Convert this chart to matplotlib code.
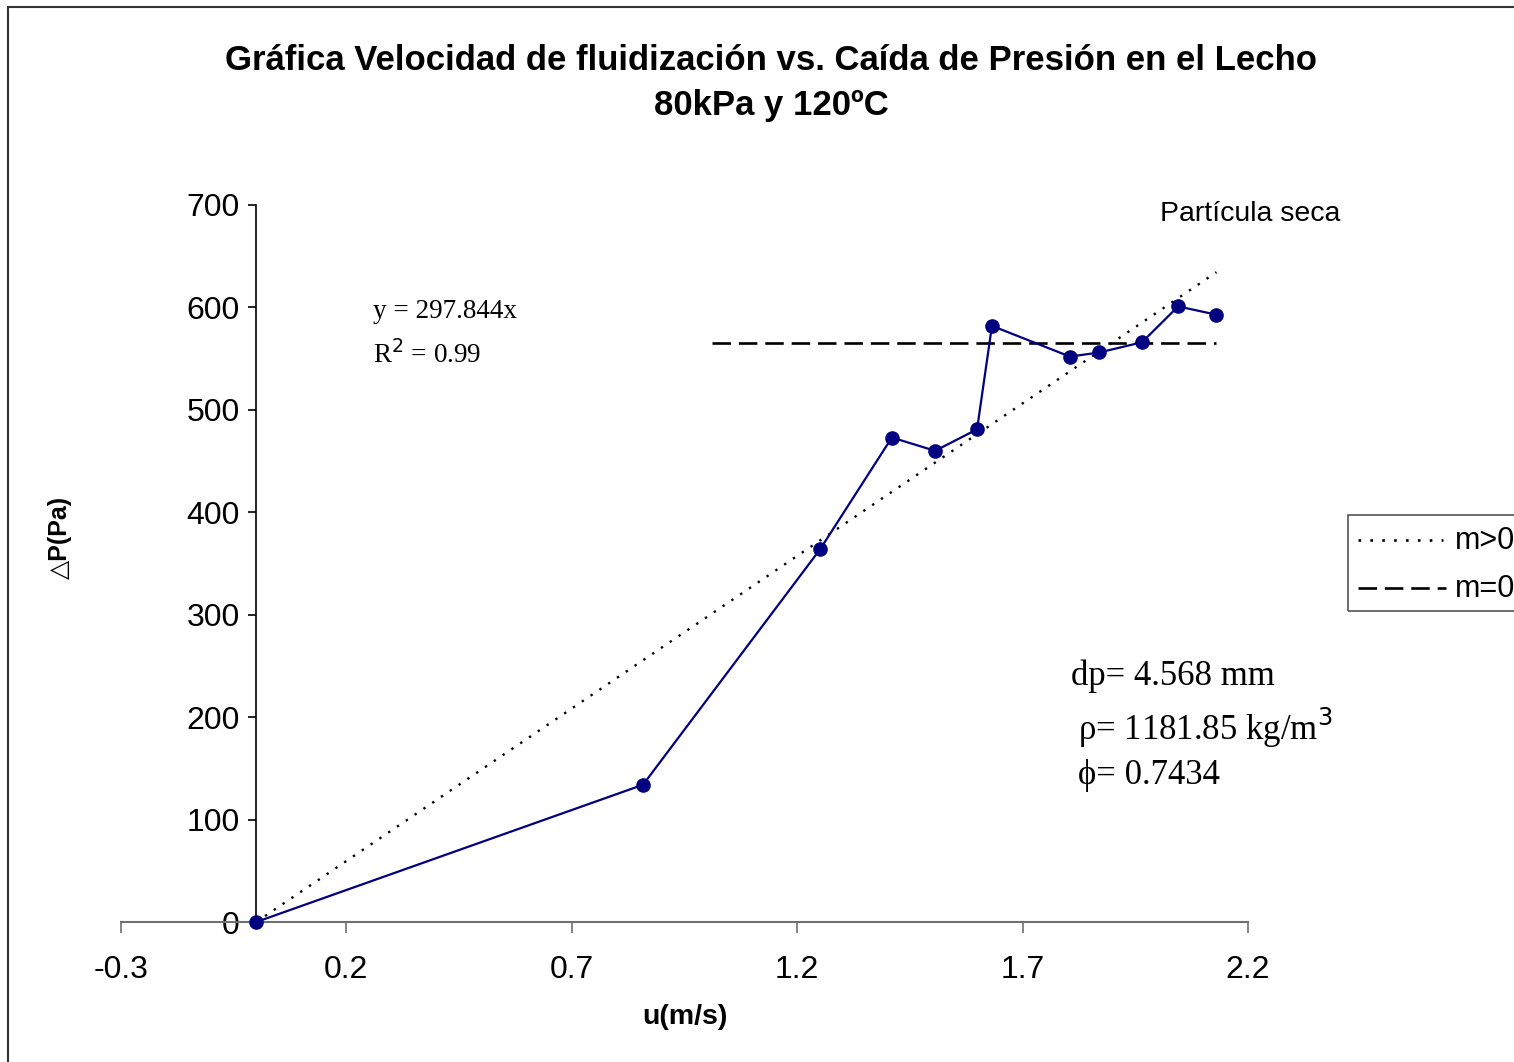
import matplotlib
matplotlib.use("Agg")
import matplotlib.pyplot as plt
from matplotlib.patches import Rectangle
from matplotlib.lines import Line2D

# Data
u = [0.0, 0.858, 1.251, 1.410, 1.506, 1.599, 1.632, 1.805, 1.870, 1.965, 2.045, 2.129]
dp = [0, 134, 364, 473, 460, 481, 582, 552, 556, 566, 601, 593]
slope = 297.844
fit_x = [0.0, 2.13]
plateau_x = [1.01, 2.13]
plateau_y = 565
xticks = [-0.3, 0.2, 0.7, 1.2, 1.7, 2.2]
xticklabels = ["-0.3", "0.2", "0.7", "1.2", "1.7", "2.2"]
yticks = [0, 100, 200, 300, 400, 500, 600, 700]

W, H = 1514, 1062
fig = plt.figure(figsize=(W / 100, H / 100), dpi=100)
sans = "Liberation Sans"
serif = "Liberation Serif"

def fx(px):
    return px / W

def fy(py):
    return 1 - py / H

ax = fig.add_axes([fx(121), fy(922), (1248 - 121) / W, (922 - 205) / H])
ax.set_xlim(-0.3, 2.2)
ax.set_ylim(0, 700)
ax.patch.set_alpha(0)

ax.plot(fit_x, [slope * x for x in fit_x], color="black", linestyle=(0, (1, 3.5)), linewidth=1.7)
ax.plot(plateau_x, [plateau_y, plateau_y], color="black", linestyle=(0, (7, 3)), linewidth=1.9)
ax.plot(u, dp, color="#000080", linewidth=1.6, marker="o", markersize=9.5, clip_on=False, zorder=5)

for s in ["top", "right"]:
    ax.spines[s].set_visible(False)
ax.spines["left"].set_position(("data", 0))
ax.spines["left"].set_color("black")
ax.spines["bottom"].set_color("#707070")
ax.spines["left"].set_linewidth(1.2)
ax.spines["bottom"].set_linewidth(1.5)

ax.set_xticks(xticks)
ax.set_xticklabels(xticklabels)
ax.set_yticks(yticks)
ax.tick_params(axis="x", direction="out", length=8, width=1.2, color="#707070", pad=16,
               labelsize=23)
ax.tick_params(axis="y", direction="out", length=6, width=1.2, color="black", pad=6,
               labelsize=23)
for lab in ax.get_xticklabels() + ax.get_yticklabels():
    lab.set_fontfamily(sans)

# Titles
fig.text(fx(771), fy(60), "Gráfica Velocidad de fluidización vs. Caída de Presión en el Lecho",
         ha="center", va="center", fontsize=25, fontweight="bold", family=sans)
fig.text(fx(771), fy(106), "80kPa y 120ºC", ha="center", va="center", fontsize=25,
         fontweight="bold", family=sans)
fig.text(fx(685), fy(1017), "u(m/s)", ha="center", va="center", fontsize=20.5,
         fontweight="bold", family=sans)
fig.text(fx(60), fy(537), "△P(Pa)", ha="center", va="center", fontsize=18,
         fontweight="bold", rotation=90, family=[sans, "DejaVu Sans"])

# Annotations
fig.text(fx(373), fy(311), "y = 297.844x", ha="left", va="center", fontsize=19.5, family=serif)
fig.text(fx(373), fy(355), "R$^2$ = 0.99", ha="left", va="center", fontsize=19.5, family=serif)
fig.text(fx(1160), fy(214), "Partícula seca", ha="left", va="center", fontsize=20.5, family=sans)
fig.text(fx(1071), fy(676), "dp= 4.568 mm", ha="left", va="center", fontsize=25, family=serif)
fig.text(fx(1078), fy(728), "ρ= 1181.85 kg/m$^3$", ha="left", va="center", fontsize=25, family=serif)
fig.text(fx(1078), fy(776), "ϕ= 0.7434", ha="left", va="center", fontsize=25, family=serif)

# Legend (clipped by figure edge)
fig.patches.append(Rectangle((fx(1348), fy(611)), (1600 - 1348) / W, (611 - 515) / H,
                             transform=fig.transFigure, fill=False, edgecolor="#555555",
                             linewidth=1.2))
fig.lines.append(Line2D([fx(1358), fx(1443)], [fy(540), fy(540)], transform=fig.transFigure,
                        color="black", linestyle=(0, (1, 3.5)), linewidth=1.9))
fig.lines.append(Line2D([fx(1358), fx(1446)], [fy(588), fy(588)], transform=fig.transFigure,
                        color="black", linestyle=(0, (7, 3)), linewidth=1.9))
fig.text(fx(1455), fy(541), "m>0", ha="left", va="center", fontsize=22, family=sans)
fig.text(fx(1455), fy(589), "m=0", ha="left", va="center", fontsize=22, family=sans)

# Figure border
fig.patches.append(Rectangle((fx(8), -0.1), 1.2, fy(7) + 0.1, transform=fig.transFigure,
                             fill=False, edgecolor="#333333", linewidth=1.5))

fig.savefig("out.png", dpi=100)
